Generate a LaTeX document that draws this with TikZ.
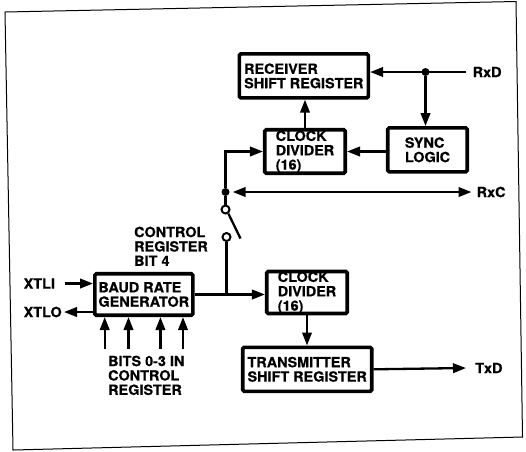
\documentclass[tikz,border=0pt]{standalone}
\usepackage{fontspec}
\setmainfont{TeX Gyre Heros}[FakeStretch=1.03, FakeBold=0.6]
\usetikzlibrary{arrows.meta, positioning}

\tikzset{
  blk/.style={draw, line width=3.6pt, rounded corners=1.5pt, align=left, inner sep=0pt, font=\fontsize{14}{14.4}\selectfont\bfseries},
  lbl/.style={inner sep=0pt, align=left, font=\fontsize{14}{14.4}\selectfont\bfseries},
  wire/.style={line width=2.3pt},
  arr/.style={wire, -{Triangle[length=13pt,width=9.5pt]}},
  sw/.style={circle, draw, line width=2pt, minimum size=8pt, inner sep=0pt, fill=white},
  dot/.style={circle, fill, minimum size=8pt, inner sep=0pt}
}

\begin{document}
\begin{tikzpicture}[x=1pt, y=-1pt]
        \useasboundingbox (0,0) rectangle (526,451);
        \draw[line width=1pt] (5,12) -- (516,1.5) -- (522.5,437) -- (13,450) -- cycle;

        %blocchi
        \node[blk, minimum width=129pt, minimum height=44pt] (rsr) at (303.8,75.9) {RECEIVER\\SHIFT REGISTER};
        \node[blk, minimum width=80.5pt, minimum height=43.5pt] (cdr) at (305,151.5) {CLOCK\\DIVIDER\\(16)};
        \node[blk, minimum width=79.5pt, minimum height=44pt] (sync) at (427.5,149.8) {SYNC\\LOGIC};
        \node[blk, minimum width=98pt, minimum height=41.5pt] (brg) at (143.8,294.5) {BAUD RATE\\GENERATOR};
        \node[blk, minimum width=80.5pt, minimum height=41.5pt] (cdt) at (307,292.5) {CLOCK\\DIVIDER\\(16)};
        \node[blk, minimum width=129pt, minimum height=44pt] (tsr) at (307.2,369.3) {TRANSMITTER\\SHIFT REGISTER};

        %ingressi e uscite
        \node[lbl, anchor=west] (rxdl) at (472.5,72) {RxD};
        \node[lbl, anchor=west] (rxcl) at (476.5,192) {RxC};
        \node[lbl, anchor=west] (txdl) at (475,368) {TxD};
        \node[lbl, anchor=west] (xtli) at (23.5,283.5) {XTLI};
        \node[lbl, anchor=west] (xtlo) at (23.5,312) {XTLO};
        \node[lbl, anchor=north west] (bits) at (108,355.5) {BITS 0-3 IN\\CONTROL\\REGISTER};
        \node[lbl, anchor=north west] (bit4) at (134,226.5) {CONTROL\\REGISTER\\BIT 4};
        \coordinate (rxd) at (466,72);
        \coordinate (rxc) at (471.5,192);
        \coordinate (txd) at (466,368);
        \coordinate (xi) at (65,283.5);
        \coordinate (xo) at (64,312);

        %ramo ricevitore
        \node[dot] (jd) at (425.5,72) {};
        \draw[arr] (rxd) -- (rsr.east|-rxd);
        \draw[arr] (jd) -- (jd|-sync.north);
        \draw[arr] (sync.west|-cdr.east) -- (cdr.east);
        \draw[arr] (cdr.north) -- (cdr.north|-rsr.south);
        \node[dot] (jc) at (225.5,192) {};
        \draw[arr] (jc) |- (cdr.west);
        \draw[wire, {Triangle[length=13pt,width=9.5pt]}-{Triangle[length=13pt,width=9.5pt]}, shorten <=3pt] (jc) -- (rxc);

        %interruttore
        \node[sw] (swa) at (225.5,209.5) {};
        \node[sw] (swb) at (226.5,237) {};
        \coordinate (lev) at (240.5,238.5);
        \draw[wire] (jc) -- (swa.north);
        \draw[wire] (swa.-55) -- (lev);
        \draw[wire] (swb.south) -- (swb.south|-brg.east);

        %ramo trasmettitore
        \draw[arr] (brg.east) -- (cdt.west|-brg.east);
        \draw[arr] (cdt.south) -- (cdt.south|-tsr.north);
        \draw[arr] (tsr.east) -- (txd);
        \draw[arr] (xi) -- (brg.west|-xi);
        \draw[arr] (brg.west|-xo) -- (xo);
        \foreach \x in {104.7,128.5,160.4,183}
            \draw[arr] (\x,349) -- (\x,0 |- brg.south);
    \end{tikzpicture}
\end{document}
